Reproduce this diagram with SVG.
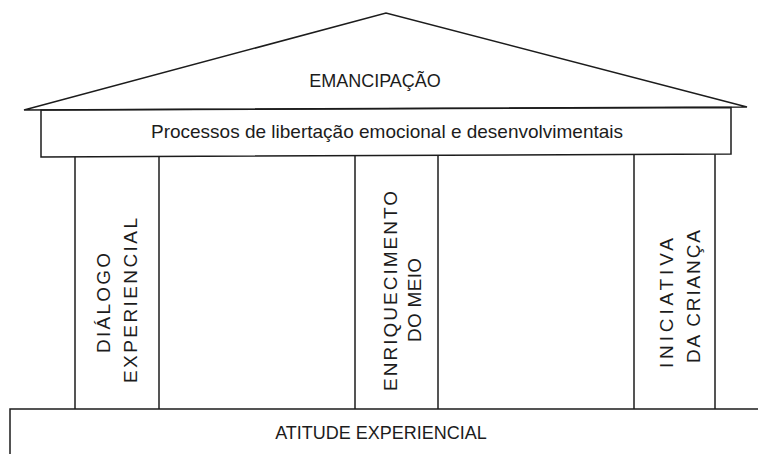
<svg xmlns="http://www.w3.org/2000/svg" width="758" height="454" viewBox="0 0 758 454">
<style>
.ln{fill:none;stroke:#1c1c1c;stroke-width:1.5;stroke-linejoin:miter}
.t{font-family:"Liberation Sans",Arial,sans-serif;fill:#1c1c1c;text-anchor:middle}
.h18{font-size:18px}
.h19{font-size:19px}
.v{font-size:19px}
</style>
<rect width="758" height="454" fill="#ffffff"/>
<g id="roof">
<polygon class="ln" points="24,110 386,13 747,107"/>
<text class="t h18" x="375" y="87">EMANCIPAÇÃO</text>
</g>
<g id="entablature">
<polygon class="ln" points="41,110 731,107.4 731,154 41,157"/>
<text class="t h19" x="387" y="137.5">Processos de libertação emocional e desenvolvimentais</text>
</g>
<g id="pillar-dialogo">
<line class="ln" x1="75" y1="156.8" x2="75" y2="409"/>
<line class="ln" x1="159" y1="156.5" x2="159" y2="409"/>
<text class="t v" transform="translate(110,303) rotate(-90)" textLength="100" lengthAdjust="spacing">DIÁLOGO</text>
<text class="t v" transform="translate(137,300.5) rotate(-90)" textLength="165" lengthAdjust="spacing">EXPERIENCIAL</text>
</g>
<g id="pillar-enriquecimento">
<line class="ln" x1="355" y1="155.8" x2="355" y2="409"/>
<line class="ln" x1="438" y1="155.5" x2="438" y2="409"/>
<text class="t v" transform="translate(397,291) rotate(-90)" textLength="200" lengthAdjust="spacing">ENRIQUECIMENTO</text>
<text class="t v" transform="translate(421,300) rotate(-90)" textLength="84" lengthAdjust="spacing">DO MEIO</text>
</g>
<g id="pillar-iniciativa">
<line class="ln" x1="634" y1="154.5" x2="634" y2="409"/>
<line class="ln" x1="715" y1="154.2" x2="715" y2="409"/>
<text class="t v" transform="translate(673,303) rotate(-90)" textLength="130" lengthAdjust="spacing">INICIATIVA</text>
<text class="t v" transform="translate(700,296.5) rotate(-90)" textLength="133" lengthAdjust="spacing">DA CRIANÇA</text>
</g>
<g id="base">
<path class="ln" d="M10,454 V409 H758"/>
<text class="t h18" x="381" y="438.5">ATITUDE EXPERIENCIAL</text>
</g>
</svg>
